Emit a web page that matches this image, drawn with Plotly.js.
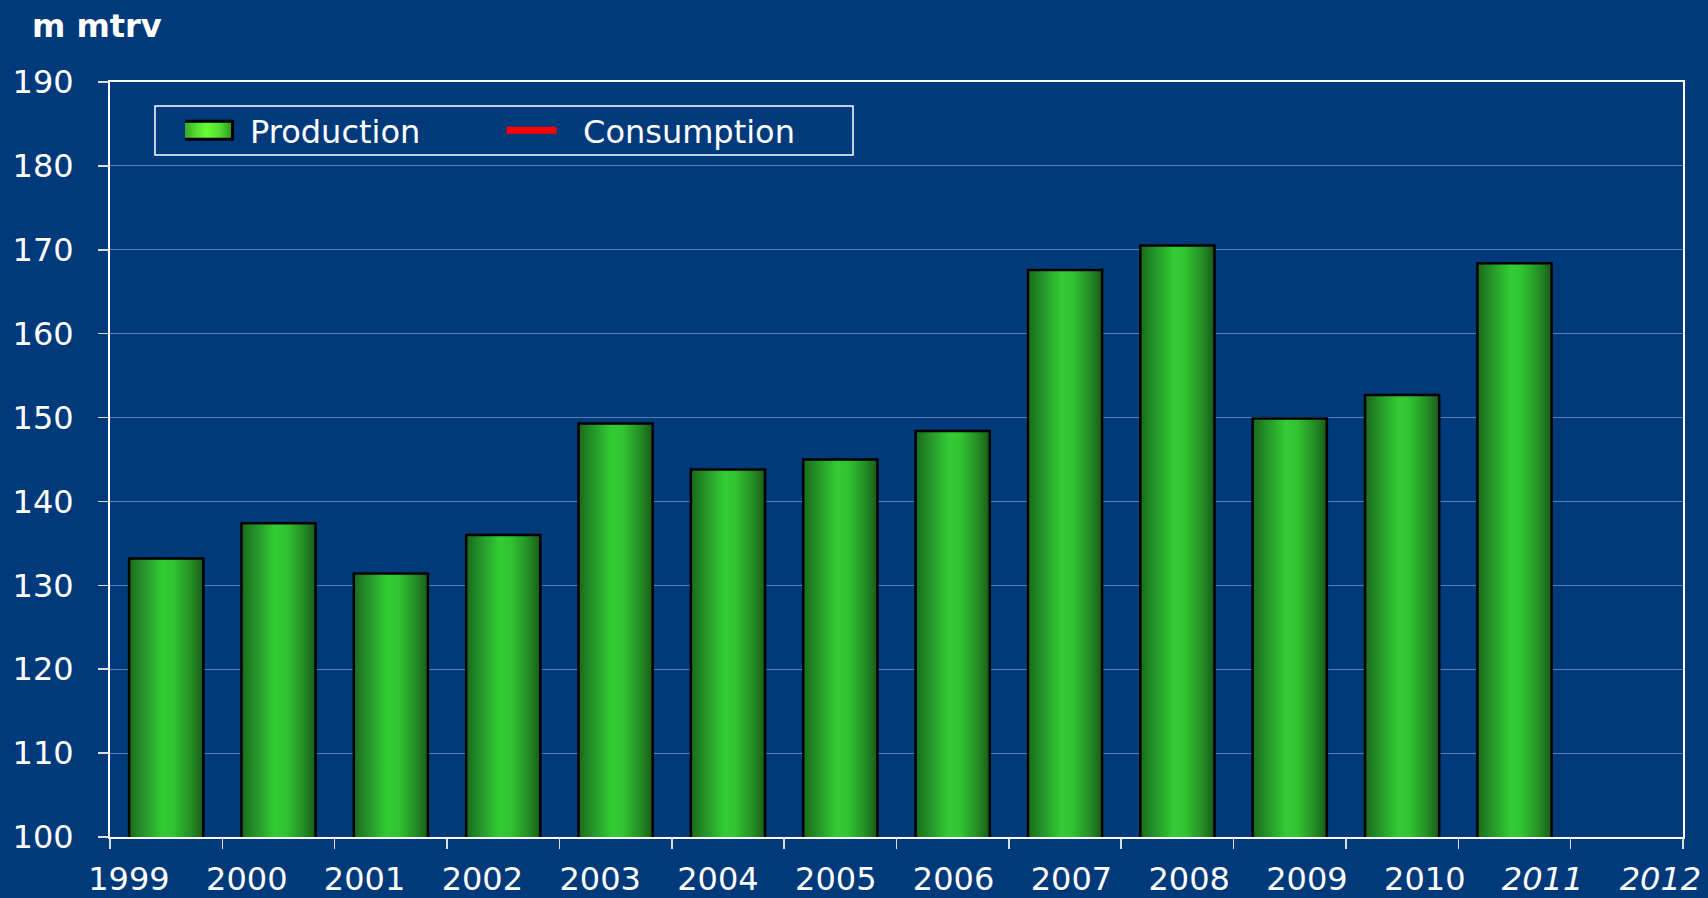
<!DOCTYPE html>
<html>
<head>
<meta charset="utf-8">
<script src="https://cdn.plot.ly/plotly-3.0.1.min.js"></script>
<style>
  html, body { margin: 0; padding: 0; background: #013a7a; }
  #chart { width: 1708px; height: 898px; }
</style>
</head>
<body>
<div id="chart"></div>
<script>
// ---- Data ----
const years = ['1999','2000','2001','2002','2003','2004','2005','2006','2007','2008','2009','2010','2011','2012'];
const yearLabels = ['1999','2000','2001','2002','2003','2004','2005','2006','2007','2008','2009','2010','<i>2011</i>','<i>2012</i>'];
const production = [133.2, 137.4, 131.4, 136.0, 149.3, 143.8, 145.0, 148.4, 167.6, 170.5, 149.9, 152.7, 168.4, null];
const consumption = [null, null, null, null, null, null, null, null, null, null, null, null, null, null];
const yTicks = [100, 110, 120, 130, 140, 150, 160, 170, 180, 190];

const BG = '#013a7a';
const FONT = 'DejaVu Sans, Verdana, sans-serif';
const FS = 32;

const traces = [
  {
    type: 'bar',
    name: 'Production',
    x: years,
    y: production,
    width: 0.66,
    marker: { color: '#2fbf2f', line: { color: '#000000', width: 2.5 } },
    hoverinfo: 'x+y'
  },
  {
    type: 'scatter',
    mode: 'lines',
    name: 'Consumption',
    x: years,
    y: consumption,
    xaxis: 'x2',
    line: { color: '#ff0000', width: 7 },
    connectgaps: false
  }
];

const layout = {
  width: 1708,
  height: 898,
  autosize: false,
  paper_bgcolor: BG,
  plot_bgcolor: BG,
  margin: { l: 110, r: 25, t: 82, b: 61 },
  font: { family: FONT, color: '#ffffff', size: FS },
  title: {
    text: '<b>m mtrv</b>',
    font: { family: FONT, size: FS, color: '#ffffff' },
    xref: 'container', yref: 'container',
    x: 0.0187, xanchor: 'left',
    y: 0.984, yanchor: 'top'
  },
  barmode: 'overlay',
  showlegend: true,
  legend: {
    orientation: 'h',
    x: 0.0477, xanchor: 'left',
    y: 1 - (130.5 - 82) / 755, yanchor: 'middle',
    bgcolor: 'rgba(0,0,0,0)',
    borderwidth: 0,
    font: { family: FONT, size: FS, color: '#ffffff' },
    itemwidth: 55,
    entrywidth: 263,
    entrywidthmode: 'pixels',
    traceorder: 'normal'
  },
  xaxis: {
    type: 'category',
    categoryorder: 'array',
    categoryarray: years,
    range: [-0.5, 13.5],
    tickson: 'boundaries',
    ticks: 'outside',
    ticklen: 10,
    tickwidth: 1.5,
    tickcolor: '#dddddd',
    showticklabels: false,
    showgrid: false,
    showline: true,
    mirror: true,
    linecolor: '#ffffff',
    linewidth: 2,
    layer: 'below traces',
    fixedrange: true
  },
  xaxis2: {
    type: 'category',
    overlaying: 'x',
    anchor: 'y',
    side: 'bottom',
    categoryorder: 'array',
    categoryarray: years,
    range: [-0.161, 13.192],
    tickmode: 'array',
    tickvals: years,
    ticktext: yearLabels,
    ticks: '',
    showline: false,
    showgrid: false,
    zeroline: false,
    tickfont: { family: FONT, size: FS, color: '#ffffff' },
    ticklabelstandoff: 20,
    fixedrange: true
  },
  yaxis: {
    range: [100, 190],
    tickmode: 'array',
    tickvals: yTicks,
    ticktext: yTicks.map(String),
    ticks: 'outside',
    ticklen: 10,
    tickwidth: 1.5,
    tickcolor: '#dddddd',
    tickfont: { family: FONT, size: FS, color: '#ffffff' },
    ticklabelstandoff: 18,
    showgrid: true,
    gridcolor: 'rgba(200,215,235,0.45)',
    gridwidth: 1,
    zeroline: false,
    showline: true,
    mirror: true,
    linecolor: '#ffffff',
    linewidth: 2,
    fixedrange: true
  },
  shapes: [
    {
      type: 'rect', xref: 'paper', yref: 'paper',
      x0: (155 - 110) / 1573, x1: (853 - 110) / 1573,
      y0: 1 - (155 - 82) / 755, y1: 1 - (106 - 82) / 755,
      line: { color: '#ffffff', width: 1.5 },
      fillcolor: 'rgba(0,0,0,0)',
      layer: 'above'
    }
  ]
};

const gd = document.getElementById('chart');
Plotly.newPlot(gd, traces, layout, { displayModeBar: false, staticPlot: true }).then(function () {
  const ns = 'http://www.w3.org/2000/svg';
  const svg = gd.querySelector('.main-svg');
  let defs = svg.querySelector('defs');
  if (!defs) { defs = document.createElementNS(ns, 'defs'); svg.insertBefore(defs, svg.firstChild); }
  function addGrad(id, stops) {
    const g = document.createElementNS(ns, 'linearGradient');
    g.setAttribute('id', id);
    g.setAttribute('x1', '0'); g.setAttribute('x2', '1');
    g.setAttribute('y1', '0'); g.setAttribute('y2', '0');
    stops.forEach(function (s) {
      const st = document.createElementNS(ns, 'stop');
      st.setAttribute('offset', s[0]);
      st.setAttribute('stop-color', s[1]);
      g.appendChild(st);
    });
    defs.appendChild(g);
  }
  addGrad('barGrad', [['0', '#1a6a1a'], ['0.2', '#25962a'], ['0.45', '#33cc33'], ['0.6', '#31c431'], ['0.85', '#238a23'], ['1', '#185a18']]);
  addGrad('legGrad', [['0', '#2f8f1f'], ['0.3', '#55dd33'], ['0.5', '#66ff33'], ['0.75', '#55dd33'], ['1', '#2f8f1f']]);
  gd.querySelectorAll('.barlayer .point path').forEach(function (p) { p.style.fill = 'url(#barGrad)'; });
  const legTraces = gd.querySelectorAll('.legend .traces');
  if (legTraces[0]) {
    legTraces[0].querySelectorAll('.legendpoints path').forEach(function (p) {
      p.setAttribute('d', 'M15,9H-37V-9H15Z');
      p.style.fill = 'url(#legGrad)';
      p.style.stroke = '#000000';
      p.style.strokeWidth = '3px';
    });
  }
  if (legTraces[1]) {
    legTraces[1].querySelectorAll('.legendlines path').forEach(function (p) {
      p.setAttribute('d', 'M-11.5,0h50');
    });
  }
});
</script>
</body>
</html>
